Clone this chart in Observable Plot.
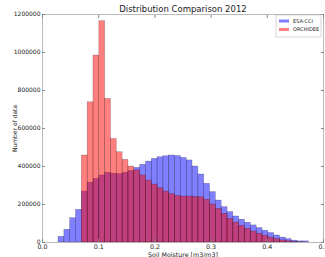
<!DOCTYPE html>
<html>
<head>
<meta charset="utf-8">
<script src="https://cdn.jsdelivr.net/npm/d3@7"></script>
<script src="https://cdn.jsdelivr.net/npm/@observablehq/plot@0.6"></script>
<style>
  html, body { margin: 0; padding: 0; background: #fff; }
  svg { display: block; }
</style>
</head>
<body>
<div id="chart"></div>
<script>
// Bin left edges (soil moisture, m3/m3), common to both histograms
const binLefts = [
  0.0285, 0.0389, 0.0492, 0.0596, 0.0700, 0.0804, 0.0907, 0.1011, 0.1115, 0.1218,
  0.1322, 0.1426, 0.1529, 0.1633, 0.1737, 0.1841, 0.1944, 0.2048, 0.2152, 0.2255,
  0.2359, 0.2463, 0.2566, 0.2670, 0.2774, 0.2878, 0.2981, 0.3085, 0.3189, 0.3292,
  0.3396, 0.3500, 0.3603, 0.3707, 0.3811, 0.3915, 0.4018, 0.4122, 0.4226, 0.4329,
  0.4433, 0.4537, 0.4640
];
const binWidth = 0.01037;

// Counts per bin
const esaCci = [
  30000, 67000, 128000, 172000, 268000, 315000, 335000, 353000, 367000, 362000,
  360000, 367000, 377000, 393000, 409000, 426000, 440000, 449000, 454000, 458000,
  455000, 445000, 432000, 400000, 358000, 309000, 265000, 221000, 186000, 160000,
  137000, 120000, 104000, 90000, 76000, 62000, 50000, 37000, 26000, 18000,
  10000, 6000, 6000
];
const orchidee = [
  0, 0, 0, 0, 458000, 738000, 984000, 1165000, 756000, 545000,
  475000, 435000, 400000, 380000, 353000, 326000, 305000, 286000, 268000, 255000,
  245000, 242000, 242000, 240000, 238000, 225000, 200000, 177000, 151000, 125000,
  105000, 88000, 72000, 58000, 46000, 36000, 26000, 18000, 11000, 7000,
  3000, 1000, 0
];

const seriesNames = ["ESA-CCI", "ORCHIDEE"];
const seriesColors = ["#0000ff", "#ff0000"];
const xTicks = [0.0, 0.1, 0.2, 0.3, 0.4, 0.5];
const yTicks = [0, 200000, 400000, 600000, 800000, 1000000, 1200000];
const titleText = "Distribution Comparison 2012";
const xLabel = "Soil Moisture [m3/m3]";
const yLabel = "Number of data";

const rows = (vals) => binLefts.map((x, i) => ({x1: x, x2: x + binWidth, y: vals[i]}));
const blueRows = rows(esaCci);
const redRows = rows(orchidee).filter(d => d.y > 0);

const W = 325, H = 257;
const chart = Plot.plot({
  width: W,
  height: H,
  marginLeft: 42,
  marginRight: 2,
  marginTop: 14,
  marginBottom: 15,
  style: {fontFamily: "DejaVu Sans, sans-serif", fontSize: "6px", color: "#222", background: "#fff"},
  x: {domain: [0, 0.5]},
  y: {domain: [0, 1200000]},
  marks: [
    Plot.rectY(blueRows, {x1: "x1", x2: "x2", y: "y", fill: seriesColors[0], fillOpacity: 0.5, stroke: "#000", strokeOpacity: 0.35, strokeWidth: 0.5}),
    Plot.rectY(redRows, {x1: "x1", x2: "x2", y: "y", fill: seriesColors[1], fillOpacity: 0.5, stroke: "#000", strokeOpacity: 0.35, strokeWidth: 0.5}),
    Plot.frame({stroke: "#aaa", strokeWidth: 0.8}),
    Plot.axisX({ticks: xTicks, tickFormat: d3.format(".1f"), tickSize: -3, tickPadding: 5, stroke: "#888",
      label: xLabel, labelAnchor: "center", labelArrow: "none", labelOffset: 14.5, fontSize: 6.3}),
    Plot.axisX({ticks: xTicks, anchor: "top", tickFormat: () => "", tickSize: -3, stroke: "#888", label: null}),
    Plot.axisY({ticks: yTicks, tickFormat: d => String(d), tickSize: -3, tickPadding: 5, stroke: "#888",
      label: yLabel, labelAnchor: "center", labelArrow: "none", labelOffset: 30, fontSize: 6}),
    Plot.axisY({ticks: yTicks, anchor: "right", tickFormat: () => "", tickSize: -3, stroke: "#888", label: null}),
    Plot.text([titleText], {frameAnchor: "top", text: d => d, dy: -8.5, fontSize: 8.5, fill: "#222"})
  ]
});
document.getElementById("chart").appendChild(chart);

// Legend (upper right, inside axes)
const svg = d3.select(chart.tagName === "svg" ? chart : chart.querySelector("svg"));
const lg = svg.append("g").attr("transform", "translate(276,15)");
lg.append("rect").attr("x", 0).attr("y", 0).attr("width", 45).attr("height", 22)
  .attr("fill", "#fff").attr("stroke", "#bbb").attr("stroke-width", 0.6);
seriesNames.forEach((name, i) => {
  const cy = 6 + i * 8.5;
  lg.append("rect").attr("x", 3).attr("y", cy - 1.5).attr("width", 10).attr("height", 3)
    .attr("fill", seriesColors[i]).attr("fill-opacity", 0.5);
  lg.append("text").attr("x", 17).attr("y", cy).attr("dy", "0.35em").attr("font-size", 5)
    .attr("text-anchor", "start")
    .attr("font-family", "DejaVu Sans, sans-serif").attr("fill", "#222").text(name);
});
</script>
</body>
</html>
